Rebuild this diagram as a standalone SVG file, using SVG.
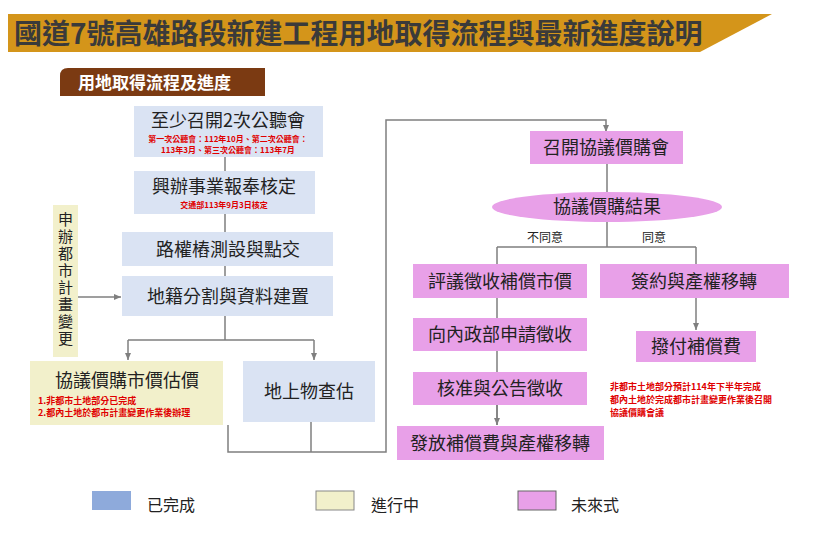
<svg xmlns="http://www.w3.org/2000/svg" width="818" height="537" viewBox="0 0 818 537">
<style>
text{font-family:"Noto Sans CJK TC","Liberation Sans",sans-serif;fill:#222}
.b{fill:#dae3f3}.y{fill:#f2f0cb}.p{fill:#e8a0e8}
.t{font-size:18px;text-anchor:middle}
.r{font-size:8px;fill:#e00000;font-weight:bold;text-anchor:middle}
.r2{font-size:9px;fill:#e00000;font-weight:bold}
.c{fill:none;stroke:#7f7f7f;stroke-width:1.5}
</style>
<defs><marker id="a" markerWidth="8" markerHeight="8" refX="7" refY="4" orient="auto" markerUnits="userSpaceOnUse"><path d="M0,1 L7,4 L0,7z" fill="#7f7f7f"/></marker></defs>
<g id="title"><polygon points="8,14 772,14 700,52 8,52" fill="#d4951a"/>
<text x="14" y="44" style="font-size:28px;font-weight:bold;fill:#3a3a3a">國道7號高雄路段新建工程用地取得流程與最新進度說明</text></g>
<g id="subtitle"><path d="M68,68 H265 V96 H60 V76 Q60,68 68,68z" fill="#7b3a12"/>
<text x="78" y="89" style="font-size:17px;font-weight:bold;fill:#fff">用地取得流程及進度</text></g>
<g id="connectors">
<path class="c" d="M225,157V171M225,214V232M225,266V276M225,316V340M128,340H314"/>
<path class="c" d="M128,340V360" marker-end="url(#a)"/><path class="c" d="M314,340V360" marker-end="url(#a)"/>
<path class="c" d="M78,297H121" marker-end="url(#a)"/>
<path class="c" d="M228,425V452H386V120H606V132" marker-end="url(#a)"/>
<path class="c" d="M311,422V452"/>
<path class="c" d="M607,164V192M607,222V247M497,247H696M497,247V264M696,247V264M497,298V425"/>
<path class="c" d="M497,405V425" marker-end="url(#a)"/>
<path class="c" d="M696,298V330" marker-end="url(#a)"/>
</g>
<g id="n1"><rect class="b" x="134" y="106" width="189" height="51"/><text class="t" x="228" y="127">至少召開2次公聽會</text>
<text class="r" x="228" y="142">第一次公聽會：112年10月、第二次公聽會：</text><text class="r" x="228" y="153">113年3月、第三次公聽會：113年7月</text></g>
<g id="n2"><rect class="b" x="134" y="171" width="181" height="43"/><text class="t" x="224" y="193">興辦事業報奉核定</text><text class="r" x="224" y="208">交通部113年9月3日核定</text></g>
<g id="n3"><rect class="b" x="122" y="232" width="211" height="34"/><text class="t" x="228" y="256">路權樁測設與點交</text></g>
<g id="n4"><rect class="b" x="122" y="276" width="211" height="40"/><text class="t" x="228" y="303">地籍分割與資料建置</text></g>
<g id="n5"><rect class="y" x="53" y="205" width="25" height="152"/><text x="65.5" y="212" style="writing-mode:vertical-rl;font-size:15px;letter-spacing:2px">申辦都市計畫變更</text></g>
<g id="n6"><rect class="y" x="30" y="361" width="193" height="64"/><text class="t" x="127" y="387">協議價購市價估價</text>
<text class="r2" x="38" y="404">1.非都市土地部分已完成</text><text class="r2" x="38" y="416">2.都內土地於都市計畫變更作業後辦理</text></g>
<g id="n7"><rect class="b" x="243" y="361" width="132" height="61"/><text class="t" x="309" y="398">地上物查估</text></g>
<g id="n8"><rect class="p" x="530" y="131" width="153" height="33"/><text class="t" x="606" y="154">召開協議價購會</text></g>
<g id="n9"><ellipse class="p" cx="607" cy="207" rx="115" ry="15"/><text class="t" x="607" y="213">協議價購結果</text></g>
<text x="545" y="242" style="font-size:12px;text-anchor:middle">不同意</text>
<text x="654" y="242" style="font-size:12px;text-anchor:middle">同意</text>
<g id="n10"><rect class="p" x="413" y="264" width="174" height="34"/><text class="t" x="500" y="288">評議徵收補償市價</text></g>
<g id="n11"><rect class="p" x="600" y="264" width="189" height="34"/><text class="t" x="694" y="288">簽約與產權移轉</text></g>
<g id="n12"><rect class="p" x="413" y="318" width="174" height="33"/><text class="t" x="500" y="341">向內政部申請徵收</text></g>
<g id="n13"><rect class="p" x="636" y="331" width="120" height="31"/><text class="t" x="696" y="353">撥付補償費</text></g>
<g id="n14"><rect class="p" x="413" y="372" width="174" height="33"/><text class="t" x="500" y="395">核准與公告徵收</text></g>
<g id="n15"><rect class="p" x="397" y="426" width="207" height="34"/><text class="t" x="500" y="450">發放補償費與產權移轉</text></g>
<g id="note"><text class="r2" x="610" y="390">非都市土地部分預計114年下半年完成</text><text class="r2" x="610" y="403">都內土地於完成都市計畫變更作業後召開</text><text class="r2" x="610" y="416">協議價購會議</text></g>
<g id="legend">
<rect x="92" y="491" width="39" height="19" fill="#8eaadb"/><text x="147" y="511" style="font-size:16px">已完成</text>
<rect x="316" y="491" width="38" height="19" fill="#f2f0cb" stroke="#888"/><text x="371" y="511" style="font-size:16px">進行中</text>
<rect x="518" y="491" width="38" height="19" fill="#e8a0e8" stroke="#666"/><text x="571" y="511" style="font-size:16px">未來式</text>
</g>
</svg>
